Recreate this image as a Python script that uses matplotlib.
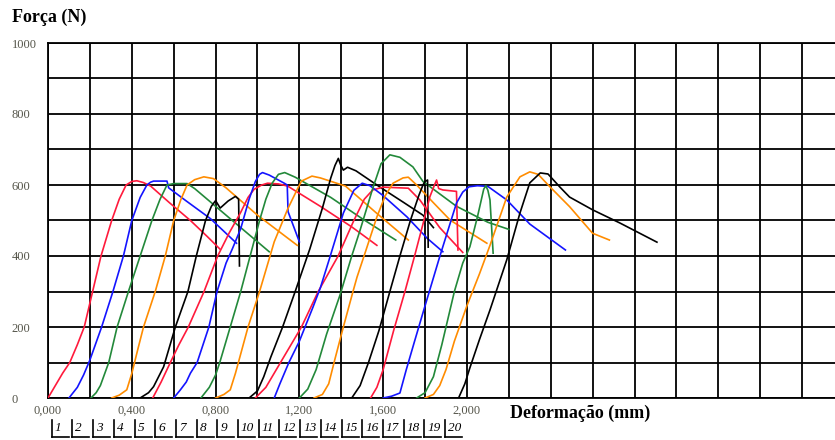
import numpy as np
import matplotlib.pyplot as plt
from matplotlib.lines import Line2D

plt.rcParams['font.family'] = ['Liberation Serif', 'DejaVu Serif']

x01 = [0.00, 0.04, 0.07, 0.104, 0.14, 0.173, 0.213, 0.253, 0.304, 0.34, 0.373, 0.40, 0.424, 0.455, 0.49, 0.58, 0.68, 0.76, 0.82]
f01 = [0, 40, 70, 100, 150, 200, 300, 400, 500, 560, 600, 610, 612, 607, 597, 550, 500, 455, 420]

x02 = [0.10, 0.14, 0.17, 0.20, 0.256, 0.31, 0.36, 0.40, 0.44, 0.472, 0.49, 0.504, 0.568, 0.576, 0.66, 0.776, 0.90]
f02 = [0, 30, 65, 107, 200, 300, 400, 500, 565, 600, 608, 611, 611, 592, 555, 505, 436]

x03 = [0.205, 0.23, 0.25, 0.29, 0.33, 0.384, 0.44, 0.496, 0.535, 0.568, 0.60, 0.664, 0.70, 0.80, 0.92, 1.056]
f03 = [0, 15, 35, 100, 200, 300, 400, 500, 560, 600, 604, 604, 590, 540, 480, 412]

x04 = [0.304, 0.34, 0.376, 0.40, 0.43, 0.456, 0.512, 0.56, 0.60, 0.635, 0.664, 0.70, 0.744, 0.79, 0.85, 1.0, 1.19]
f04 = [0, 8, 23, 69, 140, 200, 300, 400, 500, 560, 600, 615, 623, 618, 592, 515, 430]

x05 = [0.44, 0.48, 0.504, 0.552, 0.608, 0.668, 0.708, 0.752, 0.78, 0.80, 0.822, 0.86, 0.895, 0.91, 0.914]
f05 = [0, 15, 32, 88, 200, 300, 400, 500, 540, 556, 535, 555, 568, 560, 372]

x06 = [0.50, 0.54, 0.584, 0.625, 0.67, 0.745, 0.81, 0.865, 0.92, 0.955, 0.984, 1.02, 1.048, 1.10, 1.144, 1.30, 1.45, 1.57]
f06 = [0, 45, 100, 150, 200, 300, 400, 465, 523, 565, 588, 600, 605, 603, 597, 540, 482, 430]

x07 = [0.60, 0.632, 0.66, 0.68, 0.712, 0.768, 0.807, 0.85, 0.88, 0.92, 0.96, 0.99, 1.01, 1.024, 1.056, 1.128, 1.142, 1.146, 1.20]
f07 = [0, 23, 45, 70, 100, 200, 300, 380, 420, 477, 560, 610, 630, 635, 628, 605, 600, 525, 440]

x08 = [0.73, 0.77, 0.80, 0.82, 0.87, 0.92, 0.965, 1.01, 1.04, 1.07, 1.10, 1.13, 1.18, 1.35, 1.50, 1.66]
f08 = [0, 30, 65, 100, 200, 300, 400, 500, 560, 605, 630, 635, 622, 565, 505, 445]

x09 = [0.80, 0.84, 0.87, 0.895, 0.925, 0.955, 1.01, 1.08, 1.144, 1.19, 1.21, 1.26, 1.30, 1.42, 1.57, 1.72]
f09 = [0, 10, 23, 70, 135, 200, 300, 440, 532, 588, 611, 625, 620, 597, 520, 445]

x10 = [0.96, 1.0, 1.03, 1.064, 1.12, 1.18, 1.25, 1.31, 1.35, 1.37, 1.386, 1.398, 1.41, 1.43, 1.47, 1.585, 1.70, 1.79, 1.84]
f10 = [0, 20, 60, 116, 200, 300, 420, 535, 620, 655, 675, 655, 642, 650, 640, 594, 550, 515, 480]

x11 = [0.99, 1.04, 1.08, 1.11, 1.16, 1.21, 1.29, 1.385, 1.46, 1.51, 1.55, 1.60, 1.72, 1.775, 1.87, 1.98]
f11 = [0, 30, 70, 100, 150, 200, 300, 400, 500, 560, 586, 594, 591, 558, 480, 410]

x12 = [1.08, 1.107, 1.15, 1.20, 1.265, 1.30, 1.346, 1.41, 1.46, 1.50, 1.537, 1.60, 1.714, 1.81, 1.885]
f12 = [0, 40, 100, 160, 256, 310, 397, 521, 585, 605, 598, 570, 510, 450, 412]

x13 = [1.20, 1.24, 1.28, 1.33, 1.394, 1.45, 1.49, 1.55, 1.59, 1.632, 1.68, 1.742, 1.79, 1.95, 2.10, 2.20]
f13 = [0, 25, 80, 180, 290, 400, 473, 590, 660, 685, 678, 651, 610, 540, 495, 475]

x14 = [1.27, 1.31, 1.34, 1.37, 1.41, 1.456, 1.475, 1.52, 1.57, 1.61, 1.647, 1.695, 1.72, 1.76, 1.84, 1.92, 2.095]
f14 = [0, 10, 40, 110, 200, 300, 340, 420, 510, 570, 605, 620, 622, 600, 550, 501, 436]

x15 = [1.45, 1.49, 1.53, 1.58, 1.632, 1.68, 1.73, 1.77, 1.79, 1.80, 1.812, 1.815]
f15 = [0, 35, 100, 190, 300, 400, 500, 570, 600, 610, 614, 425]

x16 = [1.54, 1.57, 1.60, 1.65, 1.704, 1.75, 1.79, 1.823, 1.845, 1.855, 1.865, 1.885, 1.95, 1.957]
f16 = [0, 30, 80, 190, 300, 400, 490, 567, 600, 614, 590, 586, 582, 417]

x17 = [1.60, 1.64, 1.68, 1.71, 1.75, 1.79, 1.87, 1.95, 1.98, 2.01, 2.05, 2.10, 2.19, 2.30, 2.47]
f17 = [0, 5, 14, 79, 160, 240, 398, 549, 580, 595, 598, 596, 558, 490, 417]

x18 = [1.76, 1.80, 1.84, 1.88, 1.94, 1.98, 2.014, 2.05, 2.08, 2.09, 2.10, 2.11, 2.125]
f18 = [0, 15, 60, 150, 300, 380, 426, 510, 588, 598, 585, 558, 408]

x19 = [1.80, 1.84, 1.87, 1.90, 1.94, 2.0, 2.06, 2.11, 2.19, 2.253, 2.30, 2.34, 2.396, 2.49, 2.60, 2.68]
f19 = [0, 10, 35, 80, 160, 260, 350, 430, 566, 623, 637, 630, 595, 539, 464, 445]

x20 = [1.96, 1.99, 2.014, 2.06, 2.11, 2.19, 2.253, 2.30, 2.35, 2.387, 2.444, 2.49, 2.60, 2.73, 2.907]
f20 = [0, 40, 85, 165, 248, 389, 521, 606, 634, 631, 594, 566, 530, 493, 439]

curves = [(x01, f01), (x02, f02), (x03, f03), (x04, f04), (x05, f05),
          (x06, f06), (x07, f07), (x08, f08), (x09, f09), (x10, f10),
          (x11, f11), (x12, f12), (x13, f13), (x14, f14), (x15, f15),
          (x16, f16), (x17, f17), (x18, f18), (x19, f19), (x20, f20)]
labels = [str(i) for i in range(1, 21)]

# red, blue, green, orange, black repeating
palette = ['#ff1a3c', '#1414ff', '#23893a', '#ff8c00', '#000000']

x_grid = np.arange(0, 3.81, 0.2)
y_grid = np.arange(0, 1001, 100)

W, H = 835, 440
fig = plt.figure(figsize=(W / 100, H / 100), dpi=100)
ax = fig.add_axes([48 / W, 42 / H, 796 / W, 355 / H])

for i, (xs, fs) in enumerate(curves):
    ax.plot(xs, fs, color=palette[i % 5], lw=1.2, zorder=3,
            solid_joinstyle='round')

ax.set_xlim(0, 3.8)
ax.set_ylim(0, 1000)
ax.set_xticks(x_grid)
ax.set_xticklabels([f"{v:.3f}".replace('.', ',') if (i % 2 == 0 and v < 2.01) else ''
                    for i, v in enumerate(x_grid)])
ax.set_yticks(y_grid)
ax.set_yticklabels([f"{int(v)}" if int(v) % 200 == 0 else '' for v in y_grid])
ax.grid(True, color='black', lw=1.3, zorder=1)
ax.tick_params(length=0, labelsize=9, labelcolor='#55554a')
ax.tick_params(axis='x', pad=5)
ax.tick_params(axis='y', pad=26)
for lab in ax.get_yticklabels():
    lab.set_horizontalalignment('left')
for s in ax.spines.values():
    s.set_linewidth(1.3)

fig.text(12 / W, 1 - 17 / H, 'Força (N)', fontsize=13, fontweight='bold', va='center', ha='left')
fig.text(510 / W, 1 - 413 / H, 'Deformação (mm)', fontsize=13, fontweight='bold', va='center', ha='left')

# numbered curve key under the axis
for i, lab in enumerate(labels):
    bx = 51.7 + i * 20.7
    fig.add_artist(Line2D([bx / W, bx / W], [1 - 420 / H, 1 - 437 / H], color='black', lw=1.2))
    fig.add_artist(Line2D([bx / W, (bx + 17) / W], [1 - 437 / H, 1 - 437 / H], color='black', lw=1.2))
    fig.text((bx + 3) / W, 1 - 428 / H, lab, fontsize=9.5, style='italic', va='center', ha='left')

plt.savefig('out.png', dpi=100)
